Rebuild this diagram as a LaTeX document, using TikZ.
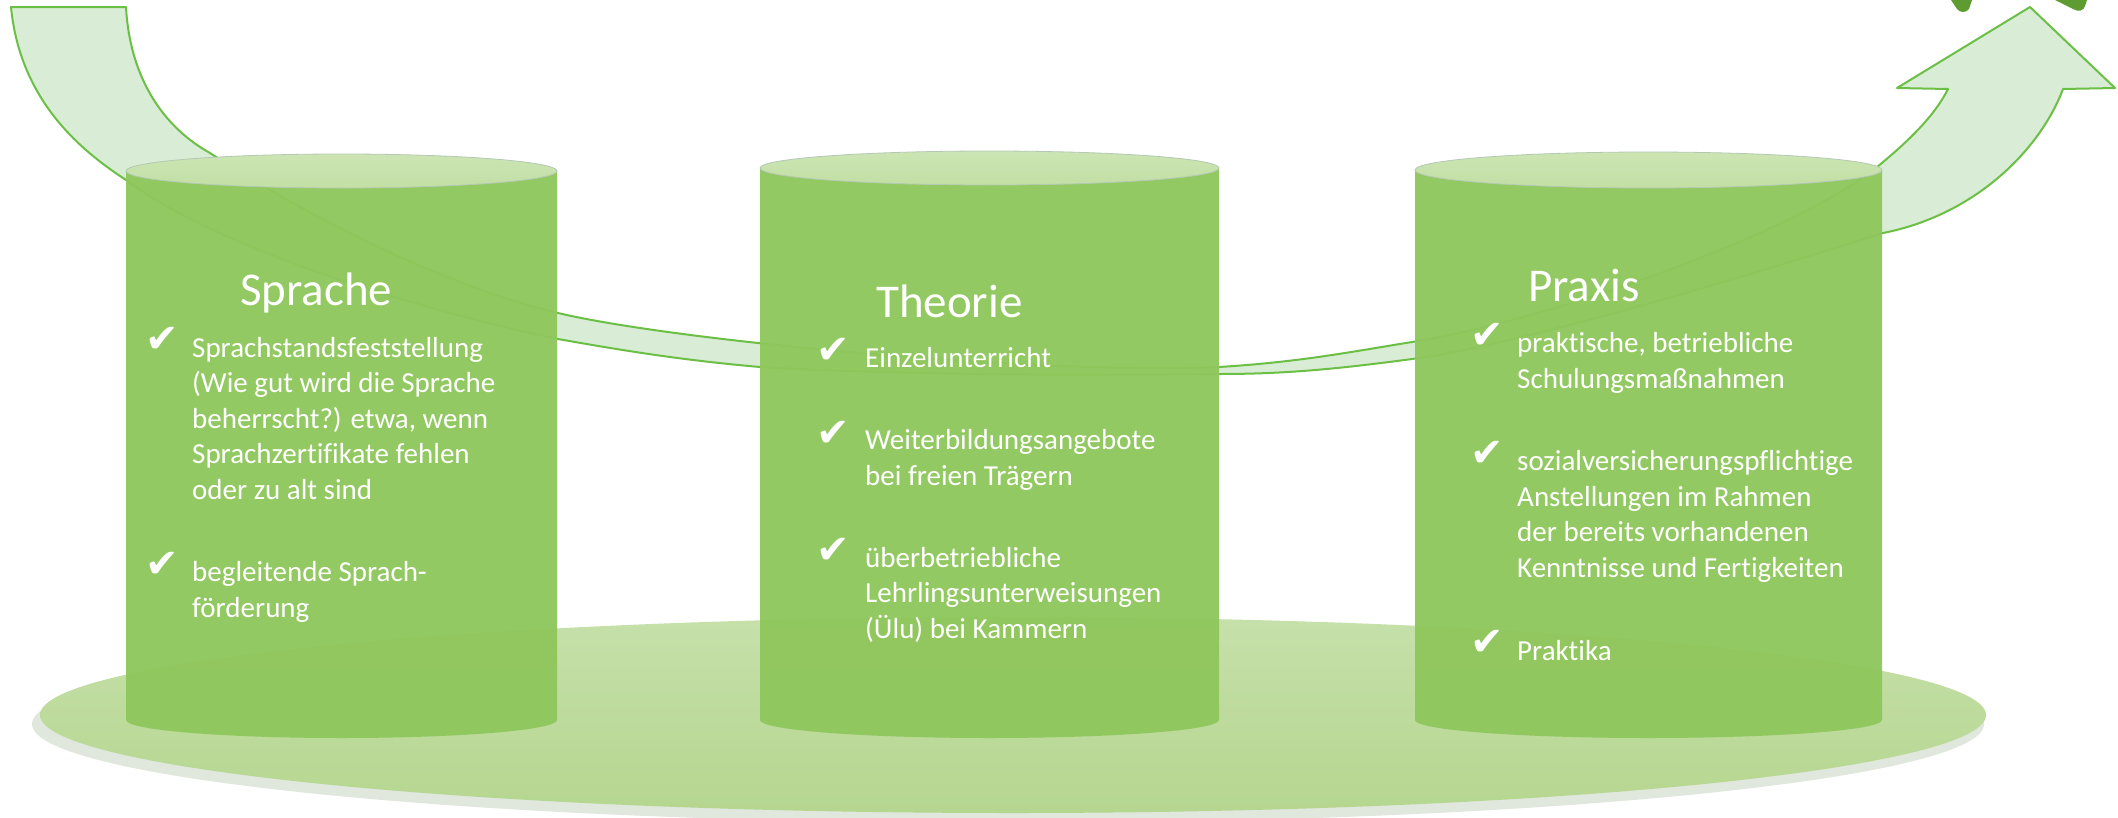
\documentclass[tikz,border=0pt]{standalone}
\usepackage{fontspec}
\setmainfont{Carlito}[Ligatures=NoCommon]
\newfontfamily\symfont{DejaVu Sans}
\definecolor{cylgreen}{HTML}{8FC75C}
\definecolor{cyltopgreen}{HTML}{C2DFA5}
\definecolor{cyltoplight}{HTML}{CCE5B3}
\definecolor{cylrim}{HTML}{B4C8B4}
\definecolor{basetop}{HTML}{C6E0AA}
\definecolor{basebot}{HTML}{B5D68F}
\definecolor{shadowc}{HTML}{D3DDCF}
\definecolor{bandfill}{HTML}{D8ECD6}
\definecolor{bandline}{HTML}{6CBF45}
\definecolor{blobgreen}{HTML}{5E9B30}
\begin{document}
\begin{tikzpicture}[x=1pt,y=-1pt,
  cylbody/.style={fill=cylgreen, opacity=0.96},
  cyltop/.style={top color=cyltoplight, bottom color=cyltopgreen, draw=cylrim, line width=0.8pt},
  title/.style={anchor=base west, inner sep=0pt, text=white, font=\fontsize{47}{56}\selectfont},
  item/.style={anchor=base west, inner sep=0pt, text=white, align=left, font=\fontsize{29}{35.5}\selectfont},
  tick/.style={anchor=base west, inner sep=0pt, text=white, font=\symfont\fontsize{40}{44}\selectfont},
  band/.style={fill=bandfill, draw=bandline, line width=2pt, line join=round}]
\useasboundingbox (0,0) rectangle (2118,817);
\fill[white] (0,0) rectangle (2118,817);

% base platter
\fill[shadowc, opacity=0.7] (1008,724) ellipse [x radius=976pt, y radius=99pt];
\shade[top color=basetop, bottom color=basebot] (1013,715) ellipse [x radius=973pt, y radius=98pt];

% curved arrow band
\draw[band] (126,7) .. controls (130,80) and (165,128) .. (210,153)
  .. controls (300,212) and (440,285) .. (558,313)
  .. controls (680,342) and (1050,375) .. (1219,367)
  .. controls (1300,362) and (1350,352) .. (1412,342)
  .. controls (1560,318) and (1800,230) .. (1877,167)
  .. controls (1910,140) and (1935,115) .. (1948,89)
  -- (1897,88) -- (2030,7) -- (2115,88) -- (2063,89)
  .. controls (2040,150) and (1975,215) .. (1883,233)
  .. controls (1750,275) and (1520,345) .. (1412,359)
  .. controls (1330,370) and (1280,374) .. (1219,374)
  .. controls (1050,376) and (880,374) .. (760,367)
  .. controls (680,360) and (620,350) .. (558,339)
  .. controls (420,310) and (220,250) .. (126,180)
  .. controls (80,150) and (20,100) .. (11,7)
  -- cycle;

% cylinders
\fill[cylbody] (126,171) -- (126,720) .. controls (126,730) and (222.5,738) .. (341.5,738) .. controls (460.5,738) and (557,730) .. (557,720) -- (557,171) -- cycle;
\shade[cyltop] (341.5,171) ellipse [x radius=215.5pt, y radius=17pt];

\fill[cylbody] (760,168) -- (760,720) .. controls (760,730) and (862.7,738) .. (989.5,738) .. controls (1116.3,738) and (1219,730) .. (1219,720) -- (1219,168) -- cycle;
\shade[cyltop] (989.5,168) ellipse [x radius=229.5pt, y radius=17pt];

\fill[cylbody] (1415,170) -- (1415,720) .. controls (1415,730) and (1519.5,738) .. (1648.5,738) .. controls (1777.5,738) and (1882,730) .. (1882,720) -- (1882,170) -- cycle;
\shade[cyltop] (1648.5,170) ellipse [x radius=233.5pt, y radius=18pt];

% partial dark shape at top right
\fill[blobgreen] (1951,0) -- (1957,9) .. controls (1960,13) and (1966,13) .. (1969,9) -- (1972,0) -- cycle;
\fill[blobgreen] (2055,0) -- (2073,9) .. controls (2078,12) and (2084,11) .. (2085,6) -- (2087,0) -- cycle;

% Sprache
\node[title] (t1) at (240,305) {Sprache};
\node[tick] (k11) at (145,352) {✔};
\node[item] (i11) at (192,499) {Sprachstandsfeststellung\\(Wie gut wird die Sprache\\beherrscht?) etwa, wenn\\Sprachzertifikate fehlen\\oder zu alt sind};
\node[tick] (k12) at (145,577) {✔};
\node[item] (i12) at (192,617) {begleitende Sprach-\\förderung};

% Theorie
\node[title] (t2) at (876,317) {Theorie};
\node[tick] (k21) at (816,363) {✔};
\node[item] (i21) at (865,367) {Einzelunterricht};
\node[tick] (k22) at (816,446) {✔};
\node[item] (i22) at (865,485) {Weiterbildungsangebote\\bei freien Trägern};
\node[tick] (k23) at (816,563) {✔};
\node[item] (i23) at (865,638) {überbetriebliche\\Lehrlingsunterweisungen\\(Ülu) bei Kammern};

% Praxis
\node[title] (t3) at (1528,301) {Praxis};
\node[tick] (k31) at (1470,348) {✔};
\node[item] (i31) at (1517,388) {praktische, betriebliche\\Schulungsmaßnahmen};
\node[tick] (k32) at (1470,466) {✔};
\node[item] (i32) at (1517,577) {sozialversicherungspflichtige\\Anstellungen im Rahmen\\der bereits vorhandenen\\Kenntnisse und Fertigkeiten};
\node[tick] (k33) at (1470,655) {✔};
\node[item] (i33) at (1517,660) {Praktika};
\end{tikzpicture}
\end{document}
